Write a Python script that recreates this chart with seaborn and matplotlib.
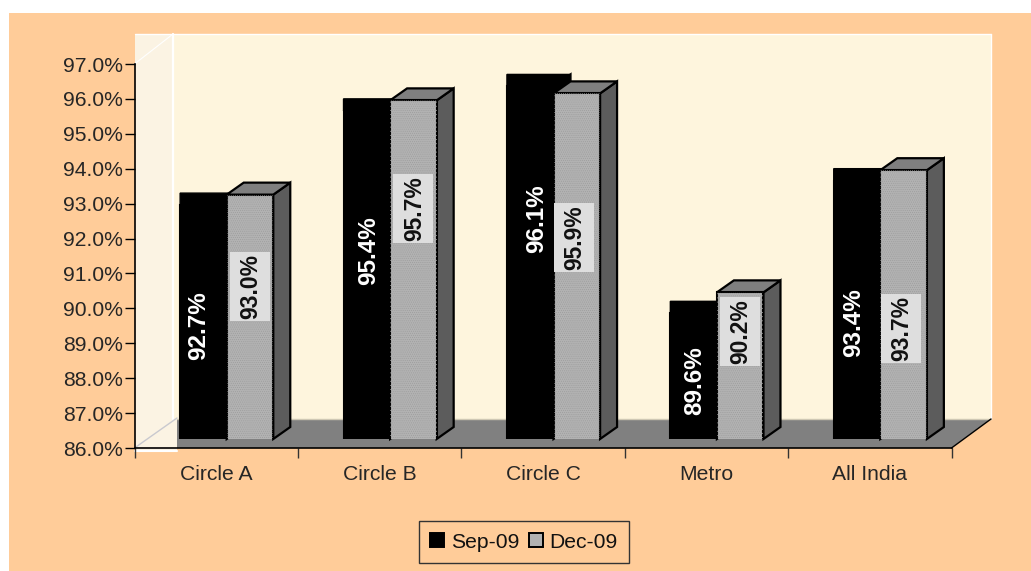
import matplotlib
matplotlib.use("Agg")
import matplotlib.pyplot as plt
from matplotlib.patches import Polygon, Rectangle
from matplotlib.ticker import FuncFormatter
import pandas as pd
import seaborn as sns

# ---- data ----
categories = ["Circle A", "Circle B", "Circle C", "Metro", "All India"]
sep_09 = [92.7, 95.4, 96.1, 89.6, 93.4]
dec_09 = [93.0, 95.7, 95.9, 90.2, 93.7]
series_names = ["Sep-09", "Dec-09"]

# ---- layout (pixels) ----
W, H = 1031, 571
AX_L, AX_R, AX_T, AX_B = 134.5, 951.5, 64, 448
BAR_DX, BAR_DY = 10.5, 9        # front plane of the bars relative to the axis
DEPTH_X, DEPTH_Y = 17, 12       # 3-D depth of a bar
WALL_R, WALL_T, WALL_L, FLOOR_B = 991, 34, 173, 419
label_shift_sep = [(-5, -4), (2, 24), (6, 44), (1, -4), (-3, -13)]
label_shift_dec = [(0, 30), (0, 61), (-3, 29), (0, 34), (-3, -24)]
LABEL_BOX_W, LABEL_BOX_H = 40, 69

PEACH = "#FFCC99"
WALL = "#FEF5DD"
SIDE = "#FBF3E3"
FLOOR = "#808080"
GRAY = "#B2B2B2"
SIDE_DARK = "#5C5C5C"
TOP_MID = "#7F7F7F"

sns.set_theme(style="white")
plt.rcParams["font.family"] = ["Liberation Sans", "DejaVu Sans"]
plt.rcParams["text.color"] = "#111111"
plt.rcParams["hatch.linewidth"] = 0.4

fig = plt.figure(figsize=(W / 100, H / 100), dpi=100, facecolor="white")


def axes_px(l, t, r, b, **kw):
    return fig.add_axes([l / W, 1 - b / H, (r - l) / W, (b - t) / H], **kw)


# ---- backdrop in pixel coordinates ----
bg = axes_px(0, 0, W, H)
bg.set_xlim(0, W)
bg.set_ylim(H, 0)
bg.axis("off")
bg.add_patch(Rectangle((9, 13), W - 9, H - 13, fc=PEACH, ec="none"))
bg.add_patch(Rectangle((AX_L, WALL_T), WALL_L + 4 - AX_L, AX_B + 3 - WALL_T, fc=SIDE, ec="none"))
bg.add_patch(Rectangle((WALL_L, WALL_T), WALL_R - WALL_L, FLOOR_B - WALL_T, fc=WALL, ec="none"))
bg.plot([AX_L, WALL_R], [WALL_T, WALL_T], color="white", lw=1)
bg.plot([WALL_L, WALL_L], [WALL_T, FLOOR_B], color="white", lw=1.6)
bg.plot([WALL_R, WALL_R], [WALL_T, FLOOR_B], color="white", lw=1)
bg.plot([AX_L, WALL_L], [AX_T, WALL_T], color="white", lw=0.8)
bg.plot([AX_L, WALL_L + 4], [AX_B, FLOOR_B - 1], color="#C9C9CF", lw=1)
bg.plot([AX_L, WALL_L + 4], [AX_B + 2.5, AX_B + 2.5], color="white", lw=1.5)
bg.add_patch(Polygon([(WALL_L + 4, FLOOR_B), (WALL_R, FLOOR_B), (AX_R, AX_B), (WALL_L + 4, AX_B)],
                     fc=FLOOR, ec="none"))
bg.plot([WALL_L + 4, WALL_R], [FLOOR_B - 0.5, FLOOR_B - 0.5], color="#CFC8B4", lw=1)
bg.plot([AX_R, WALL_R], [AX_B, FLOOR_B], color="black", lw=1)

# ---- value axis and category axis ----
ax = axes_px(AX_L, AX_T, AX_R, AX_B)
ax.patch.set_alpha(0)
ax.set_xlim(-0.5, 4.5)
ax.set_ylim(86, 97)
ax.set_yticks(range(86, 98))
ax.yaxis.set_major_formatter(FuncFormatter(lambda v, _: f"{v:.1f}%"))
ax.set_xticks(range(len(categories)))
ax.set_xticklabels(categories)
ax.set_xticks([i - 0.5 for i in range(len(categories) + 1)], minor=True)
ax.tick_params(axis="y", which="major", length=7, width=1, color="black", left=True,
               labelsize=15.2, pad=1.5)
ax.tick_params(axis="x", which="major", length=0, labelsize=15.2, pad=12)
ax.tick_params(axis="x", which="minor", length=7, width=1, color="#333333", bottom=True)
for s in ("top", "right"):
    ax.spines[s].set_visible(False)
for s in ("left", "bottom"):
    ax.spines[s].set_color("black")
    ax.spines[s].set_linewidth(1.2)

# ---- bars ----
df = pd.DataFrame({
    "category": categories * 2,
    "series": [series_names[0]] * len(categories) + [series_names[1]] * len(categories),
    "value": sep_09 + dec_09,
})
bx = axes_px(AX_L + BAR_DX, AX_T - BAR_DY, AX_R + BAR_DX, AX_B - BAR_DY)
bx.patch.set_alpha(0)
sns.barplot(data=df, x="category", y="value", hue="series", hue_order=series_names,
            order=categories, palette=["black", GRAY], width=0.57, gap=0, errorbar=None,
            edgecolor="black", linewidth=1.5, ax=bx, zorder=3, legend=False)
bx.set_xlim(-0.5, 4.5)
bx.set_ylim(86, 97)
bx.axis("off")

ux = (AX_R - AX_L) / len(categories)
uy = (AX_B - AX_T) / 11
dx, dy = DEPTH_X / ux, DEPTH_Y / uy

for z, (cont, top_c, side_c) in enumerate(zip(bx.containers,
                                              ["black", TOP_MID],
                                              ["black", SIDE_DARK])):
    for bar in cont:
        bar.set_zorder(4 + 2 * z)
        x0, x1, h = bar.get_x(), bar.get_x() + bar.get_width(), bar.get_height()
        side = Polygon([(x1, 86), (x1 + dx, 86 + dy), (x1 + dx, h + dy), (x1, h)],
                       fc=side_c, ec="black", lw=1.6, zorder=3 + 2 * z, clip_on=False)
        if z == 0:
            top = Polygon([(x0, h), (x0, h + dy), (x1 + dx, h + dy), (x1, h)],
                          fc=top_c, ec="black", lw=1, zorder=3 + 2 * z, clip_on=False)
        else:
            top = Polygon([(x0, h), (x0 + dx, h + dy), (x1 + dx, h + dy), (x1, h)],
                          fc=top_c, ec="black", lw=1.6, zorder=3 + 2 * z, clip_on=False)
            bx.add_patch(Rectangle((x0, 86), x1 - x0, h - 86, fc="none", ec="#9C9C9C", lw=0,
                                   hatch="........", zorder=6.5))
        bx.add_patch(side)
        bx.add_patch(top)

# ---- value labels ----
for bar, v, (sx, sy) in zip(bx.containers[0], sep_09, label_shift_sep):
    bx.annotate(f"{v:.1f}%", (bar.get_x() + bar.get_width() / 2, (86 + bar.get_height()) / 2),
                xytext=(sx, sy), textcoords="offset pixels", rotation=90, ha="center", va="center",
                color="white", fontsize=17.5, fontweight="bold", zorder=10)
for bar, v, (sx, sy) in zip(bx.containers[1], dec_09, label_shift_dec):
    cx, cy = bar.get_x() + bar.get_width() / 2, (86 + bar.get_height()) / 2
    bx.add_patch(Rectangle((cx + (sx - LABEL_BOX_W / 2) / ux, cy + (sy - LABEL_BOX_H / 2) / uy),
                           LABEL_BOX_W / ux, LABEL_BOX_H / uy, fc="#DEDEDE", ec="none", zorder=9))
    bx.annotate(f"{v:.1f}%", (cx, cy), xytext=(sx + 1, sy), textcoords="offset pixels", rotation=90,
                ha="center", va="center", color="#111111", fontsize=16.5, fontweight="bold",
                zorder=10)

# ---- legend ----
handles = [Rectangle((0, 0), 1, 1, fc=c, ec="black", lw=1.4) for c in ("black", GRAY)]
leg = fig.legend(handles, series_names, loc="center", bbox_to_anchor=(524 / W, 1 - 542 / H),
                 ncol=2, frameon=True, fontsize=15.2, fancybox=False, framealpha=1,
                 facecolor=PEACH, edgecolor="#333333", handlelength=0.67, handleheight=0.67,
                 handletextpad=0.3, columnspacing=0.48, borderpad=0.55, borderaxespad=0)
leg.get_frame().set_linewidth(1)

fig.savefig("out.png", dpi=100)
